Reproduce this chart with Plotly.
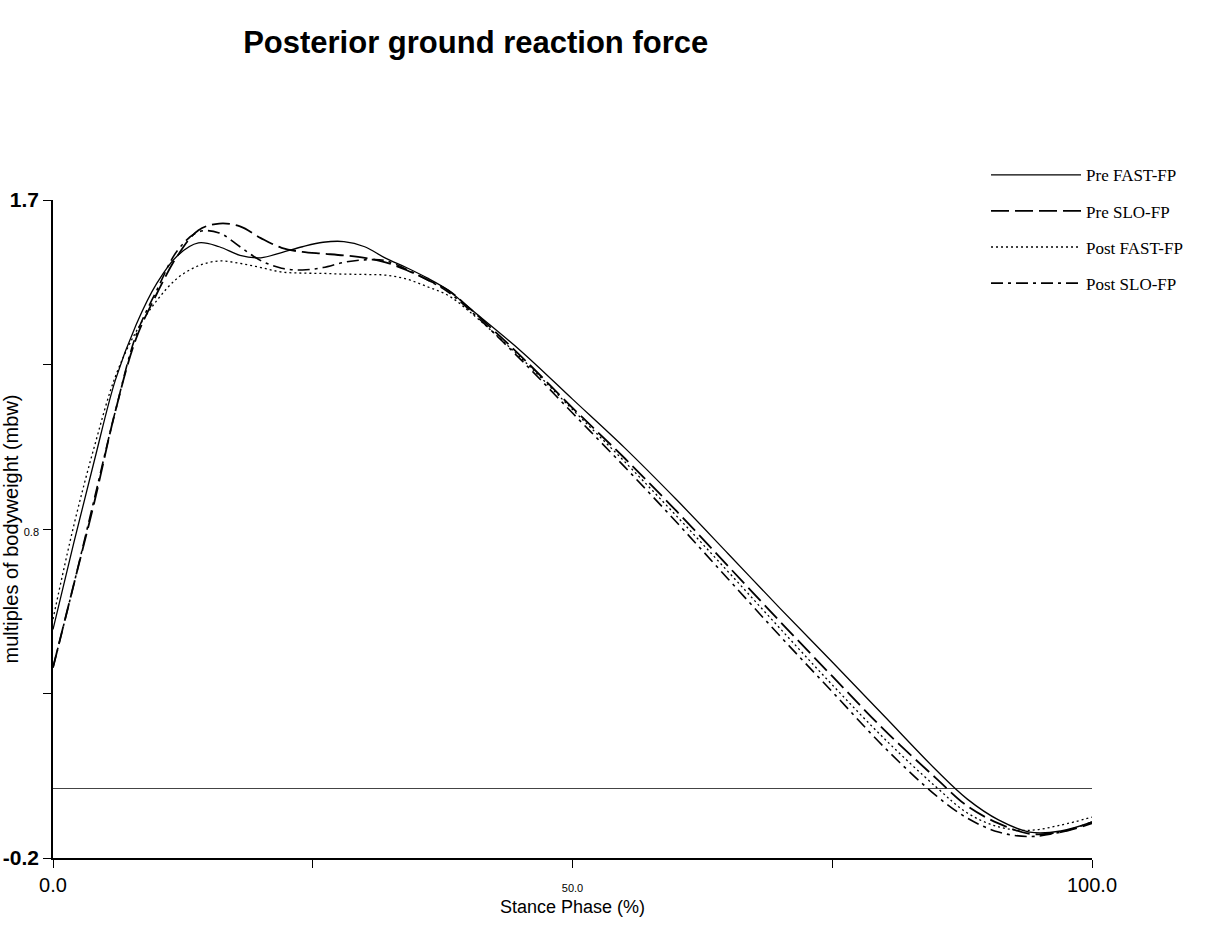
import plotly.graph_objects as go

stance = [0, 2, 4, 6, 8, 10, 12, 14, 16, 18, 20, 22, 24, 26, 28, 30, 32, 34, 36, 38, 40,
          45, 50, 55, 60, 65, 70, 75, 80, 85, 88, 91, 94, 97, 100]

pre_fast = [0.46, 0.71, 0.95, 1.18, 1.34, 1.46, 1.54, 1.576, 1.565, 1.54, 1.533, 1.548, 1.565, 1.578, 1.58,
            1.565, 1.532, 1.505, 1.475, 1.44, 1.39,
            1.265, 1.125, 0.985, 0.835, 0.678, 0.52, 0.366, 0.21, 0.054, -0.03, -0.09, -0.125, -0.122, -0.096]

pre_slo = [0.35, 0.59, 0.83, 1.09, 1.30, 1.43, 1.54, 1.613, 1.632, 1.624, 1.59, 1.562, 1.55, 1.545, 1.54,
           1.533, 1.52, 1.498, 1.47, 1.44, 1.39,
           1.25, 1.10, 0.955, 0.802, 0.642, 0.482, 0.325, 0.17, 0.03, -0.05, -0.10, -0.13, -0.125, -0.10]

post_fast = [0.49, 0.76, 0.99, 1.19, 1.32, 1.41, 1.475, 1.51, 1.524, 1.517, 1.505, 1.492, 1.489, 1.488, 1.486,
             1.485, 1.483, 1.472, 1.45, 1.425, 1.38,
             1.245, 1.095, 0.945, 0.788, 0.626, 0.462, 0.30, 0.145, 0.005, -0.07, -0.11, -0.12, -0.105, -0.082]

post_slo = [0.35, 0.59, 0.84, 1.09, 1.31, 1.44, 1.555, 1.608, 1.605, 1.565, 1.525, 1.503, 1.498, 1.505, 1.52,
            1.527, 1.525, 1.50, 1.47, 1.435, 1.385,
            1.24, 1.085, 0.93, 0.77, 0.605, 0.44, 0.28, 0.12, -0.02, -0.085, -0.125, -0.138, -0.125, -0.096]

series_names = ["Pre FAST-FP", "Pre SLO-FP", "Post FAST-FP", "Post SLO-FP"]

x_tickvals = [0, 25, 50, 75, 100]
x_ticktext = ["0.0", "", "<span style='font-size:11px'>50.0</span>", "", "100.0"]
y_tickvals = [-0.2, 0.275, 0.75, 1.225, 1.7]
y_ticktext = ["<b>-0.2</b>", "", "<span style='font-size:11px'>0.8</span>", "", "<b>1.7</b>"]

styles = [
    dict(width=1.3, dash="solid"),
    dict(width=1.8, dash="18px,6px"),
    dict(width=1.3, dash="2px,3px"),
    dict(width=1.6, dash="12px,5px,3px,5px"),
]

fig = go.Figure()
for i, (name, vals) in enumerate(zip(series_names, [pre_fast, pre_slo, post_fast, post_slo])):
    fig.add_trace(go.Scatter(
        x=stance, y=vals, mode="lines", name=name,
        line=dict(color="black", shape="spline", smoothing=1.0, **styles[i]),
        legendgroup=f"g{i}",
    ))

fig.update_layout(
    width=1226, height=945,
    margin=dict(l=53, r=134, t=200, b=87, autoexpand=False),
    paper_bgcolor="white", plot_bgcolor="white",
    title=dict(text="<b>Posterior ground reaction force</b>",
               font=dict(family="Liberation Sans, Arial", size=31, color="black"),
               x=0.388, xanchor="center", y=0.955, yanchor="middle"),
    legend=dict(x=0.898, y=1.065, xanchor="left", yanchor="top",
                font=dict(family="Liberation Serif, Times New Roman", size=17, color="black"),
                itemwidth=90, tracegroupgap=11, bgcolor="rgba(0,0,0,0)"),
    showlegend=True,
)

fig.update_xaxes(
    range=[0, 100], showgrid=False, zeroline=False, automargin=False,
    showline=True, linecolor="black", linewidth=1.5,
    ticks="outside", ticklen=8, tickcolor="black",
    tickvals=x_tickvals, ticktext=x_ticktext,
    tickfont=dict(family="Liberation Sans, Arial", size=20, color="black"),
    title=dict(text="Stance Phase (%)", font=dict(family="Liberation Sans, Arial", size=18, color="black"),
               standoff=6),
)
fig.update_yaxes(
    range=[-0.2, 1.7], showgrid=False, automargin=False,
    zeroline=True, zerolinecolor="#444", zerolinewidth=1,
    showline=True, linecolor="black", linewidth=1.5,
    ticks="outside", ticklen=8, tickcolor="black",
    tickvals=y_tickvals, ticktext=y_ticktext,
    tickfont=dict(family="Liberation Sans, Arial", size=21, color="black"),
    title=dict(text="multiples of bodyweight (mbw)", font=dict(family="Liberation Sans, Arial", size=20, color="black"),
               standoff=2),
)

fig.write_html("out.html")
